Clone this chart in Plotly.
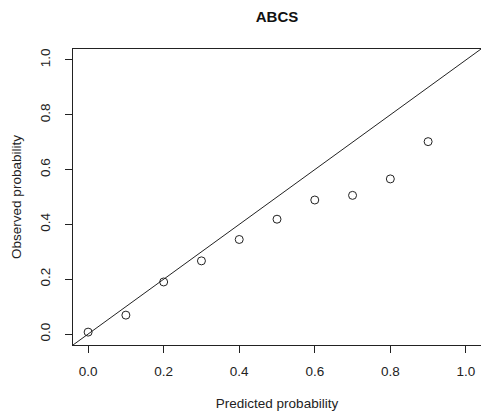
import plotly.graph_objects as go

predicted = [0.0, 0.1, 0.2, 0.3, 0.4, 0.5, 0.6, 0.7, 0.8, 0.9]
observed = [0.007, 0.069, 0.19, 0.267, 0.345, 0.419, 0.489, 0.506, 0.566, 0.702]
tick_vals = [0.0, 0.2, 0.4, 0.6, 0.8, 1.0]
tick_text = ["0.0", "0.2", "0.4", "0.6", "0.8", "1.0"]
axis_range = [-0.04, 1.04]

font_family = "Liberation Sans, Arial, sans-serif"

fig = go.Figure()
fig.add_trace(go.Scatter(
    x=axis_range, y=axis_range, mode="lines",
    line=dict(color="#222222", width=1), hoverinfo="skip", showlegend=False,
))
fig.add_trace(go.Scatter(
    x=predicted, y=observed, mode="markers",
    marker=dict(symbol="circle-open", size=8, color="#222222", line=dict(width=1)),
    showlegend=False,
))

axis_common = dict(
    range=axis_range, tickvals=tick_vals, ticktext=tick_text,
    showgrid=False, zeroline=False, showline=True, linecolor="#222222", linewidth=1,
    mirror=True, ticks="outside", ticklen=7, tickwidth=1, tickcolor="#222222",
    tickfont=dict(family=font_family, size=13.5, color="#222222"),
)

fig.update_layout(
    width=481, height=416,
    margin=dict(l=73, r=0, t=49, b=71),
    paper_bgcolor="white", plot_bgcolor="white",
    title=dict(text="<b>ABCS</b>", x=(73 + 481) / 2 / 481, xanchor="center",
               y=1 - 17 / 416, yanchor="middle", yref="container",
               font=dict(family=font_family, size=15, color="#111111")),
    xaxis=dict(**axis_common, ticklabelstandoff=7,
               title=dict(text="Predicted probability", standoff=20,
                          font=dict(family=font_family, size=13.5, color="#222222"))),
    yaxis=dict(**axis_common, tickangle=-90, ticklabelstandoff=10,
               title=dict(text="Observed probability", standoff=12,
                          font=dict(family=font_family, size=13.5, color="#222222"))),
)

fig.write_html("out.html")
